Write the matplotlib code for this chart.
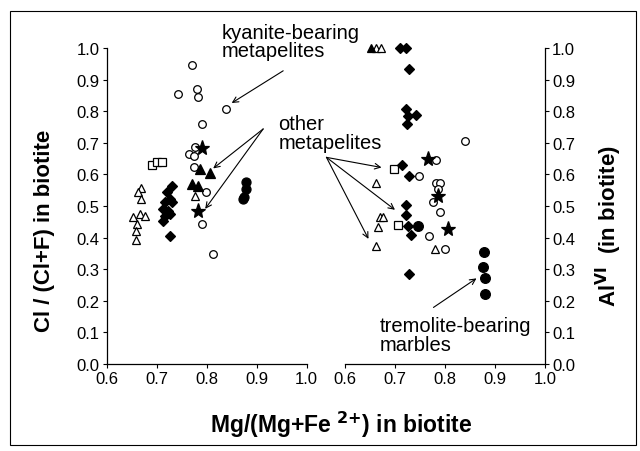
import matplotlib.pyplot as plt
from matplotlib.patches import Rectangle

plt.rcParams['font.family'] = ['Liberation Sans', 'DejaVu Sans']

# ---- left panel: Cl/(Cl+F) in biotite ----
l_ocirc_x = [0.770, 0.743, 0.780, 0.783, 0.839, 0.790, 0.777, 0.765, 0.775, 0.775, 0.799, 0.791, 0.813]
l_ocirc_y = [0.947, 0.854, 0.870, 0.844, 0.807, 0.759, 0.686, 0.665, 0.659, 0.622, 0.543, 0.443, 0.348]
l_osq_x = [0.690, 0.700, 0.710]
l_osq_y = [0.630, 0.638, 0.638]
l_otri_x = [0.669, 0.663, 0.669, 0.653, 0.667, 0.677, 0.660, 0.659, 0.659, 0.777]
l_otri_y = [0.556, 0.543, 0.522, 0.464, 0.475, 0.469, 0.443, 0.422, 0.393, 0.533]
l_diam_x = [0.730, 0.720, 0.727, 0.717, 0.730, 0.713, 0.723, 0.717, 0.727, 0.713, 0.727]
l_diam_y = [0.564, 0.543, 0.522, 0.512, 0.512, 0.491, 0.485, 0.469, 0.475, 0.453, 0.404]
l_star_x = [0.790, 0.783]
l_star_y = [0.685, 0.485]
l_ftri_x = [0.807, 0.787, 0.770, 0.783]
l_ftri_y = [0.604, 0.617, 0.570, 0.564]
l_fcirc_x = [0.879, 0.879, 0.874, 0.873]
l_fcirc_y = [0.575, 0.554, 0.527, 0.522]

# ---- right panel: AlVI in biotite ----
r_ocirc_x = [0.840, 0.782, 0.749, 0.783, 0.790, 0.787, 0.777, 0.790, 0.769, 0.800]
r_ocirc_y = [0.707, 0.646, 0.594, 0.573, 0.573, 0.554, 0.512, 0.480, 0.404, 0.364]
r_osq_x = [0.698, 0.707]
r_osq_y = [0.617, 0.440]
r_otri_x = [0.663, 0.673, 0.663, 0.670, 0.677, 0.667, 0.662, 0.780]
r_otri_y = [1.000, 1.000, 0.573, 0.464, 0.464, 0.433, 0.372, 0.364]
r_ftri_x = [0.653]
r_ftri_y = [1.000]
r_diam_x = [0.710, 0.723, 0.729, 0.723, 0.743, 0.727, 0.725, 0.715, 0.729, 0.722, 0.722, 0.727, 0.733, 0.728]
r_diam_y = [1.000, 1.000, 0.934, 0.807, 0.788, 0.786, 0.759, 0.630, 0.596, 0.503, 0.472, 0.438, 0.408, 0.285]
r_fcirc_x = [0.747, 0.879, 0.877, 0.880, 0.880]
r_fcirc_y = [0.436, 0.353, 0.306, 0.272, 0.222]
r_star_x = [0.767, 0.787, 0.807]
r_star_y = [0.649, 0.533, 0.427]

ticks_x = [0.6, 0.7, 0.8, 0.9, 1.0]
ticks_y = [i / 10 for i in range(11)]

fig = plt.figure(figsize=(6.4, 4.52), dpi=100)
axl = fig.add_axes([0.1667, 0.1925, 0.3125, 0.699])
axr = fig.add_axes([0.539, 0.1925, 0.3125, 0.699])

# frame round the whole figure
fig.patches.append(Rectangle((10 / 640, 6 / 452), 626 / 640, 434 / 452, transform=fig.transFigure,
                             fill=False, edgecolor='black', linewidth=0.8))


def draw(ax, x, y, marker, filled, ms):
    ax.plot(x, y, linestyle='none', marker=marker, markersize=ms,
            markerfacecolor='black' if filled else 'white',
            markeredgecolor='black', markeredgewidth=0.9, clip_on=False)


draw(axl, l_ocirc_x, l_ocirc_y, 'o', False, 5.5)
draw(axl, l_osq_x, l_osq_y, 's', False, 5.2)
draw(axl, l_otri_x, l_otri_y, '^', False, 6)
draw(axl, l_diam_x, l_diam_y, 'D', True, 5.5)
draw(axl, l_ftri_x, l_ftri_y, '^', True, 7)
draw(axl, l_star_x, l_star_y, '*', True, 11)
draw(axl, l_fcirc_x, l_fcirc_y, 'o', True, 6.5)

draw(axr, r_ocirc_x, r_ocirc_y, 'o', False, 5.5)
draw(axr, r_osq_x, r_osq_y, 's', False, 5.2)
draw(axr, r_otri_x, r_otri_y, '^', False, 6)
draw(axr, r_ftri_x, r_ftri_y, '^', True, 6)
draw(axr, r_diam_x, r_diam_y, 'D', True, 5.5)
draw(axr, r_star_x, r_star_y, '*', True, 11)
draw(axr, r_fcirc_x, r_fcirc_y, 'o', True, 7)

for ax in (axl, axr):
    ax.patch.set_visible(False)
    ax.set_xlim(0.6, 1.0)
    ax.set_ylim(0.0, 1.0)
    ax.set_xticks(ticks_x)
    ax.set_xticklabels([f'{t:.1f}' for t in ticks_x], fontsize=12)
    ax.set_yticks(ticks_y)
    ax.set_yticklabels([f'{t:.1f}' for t in ticks_y], fontsize=12)
    ax.spines['top'].set_visible(False)
    ax.tick_params(direction='out', length=3, width=0.8, pad=2)
    for s in ax.spines.values():
        s.set_linewidth(0.9)

axl.spines['right'].set_visible(False)
axr.spines['left'].set_visible(False)
axr.yaxis.tick_right()

fig.text(0.07, 0.49, 'Cl / (Cl+F) in biotite', rotation=90, ha='center', va='center',
         fontsize=16, fontweight='bold')
fig.text(0.952, 0.50, r'Al$^{\mathbf{VI}}$  (in biotite)', rotation=90, ha='center', va='center',
         fontsize=16, fontweight='bold')
fig.text(0.533, 0.06, r'Mg/(Mg+Fe $^{\mathbf{2}{\mathbf{+}}}$) in biotite', ha='center', va='center',
         fontsize=16.5, fontweight='bold')

arrow = dict(arrowstyle='->', lw=0.8, color='black', shrinkA=0, shrinkB=0)

# labels and arrows
axl.text(0.83, 1.02, 'kyanite-bearing\nmetapelites', ha='left', va='center', fontsize=14.5,
         linespacing=0.95, clip_on=False)
axl.annotate('', xy=(0.85, 0.826), xytext=(0.953, 0.928), arrowprops=arrow, annotation_clip=False)

axl.text(0.943, 0.731, 'other\nmetapelites', ha='left', va='center', fontsize=14.5,
         linespacing=0.95, clip_on=False, zorder=5)
axl.annotate('', xy=(0.813, 0.619), xytext=(0.913, 0.744), arrowprops=arrow, annotation_clip=False)
axl.annotate('', xy=(0.797, 0.491), xytext=(0.913, 0.744), arrowprops=arrow, annotation_clip=False)
axr.annotate('', xy=(0.673, 0.622), xytext=(0.563, 0.654), arrowprops=arrow, annotation_clip=False)
axr.annotate('', xy=(0.700, 0.488), xytext=(0.563, 0.654), arrowprops=arrow, annotation_clip=False)
axr.annotate('', xy=(0.647, 0.396), xytext=(0.563, 0.654), arrowprops=arrow, annotation_clip=False)

axr.text(0.67, 0.092, 'tremolite-bearing\nmarbles', ha='left', va='center', fontsize=14.5,
         linespacing=0.95, clip_on=False)
axr.annotate('', xy=(0.863, 0.271), xytext=(0.777, 0.179), arrowprops=arrow, annotation_clip=False)

fig.savefig('out.png', dpi=100)
